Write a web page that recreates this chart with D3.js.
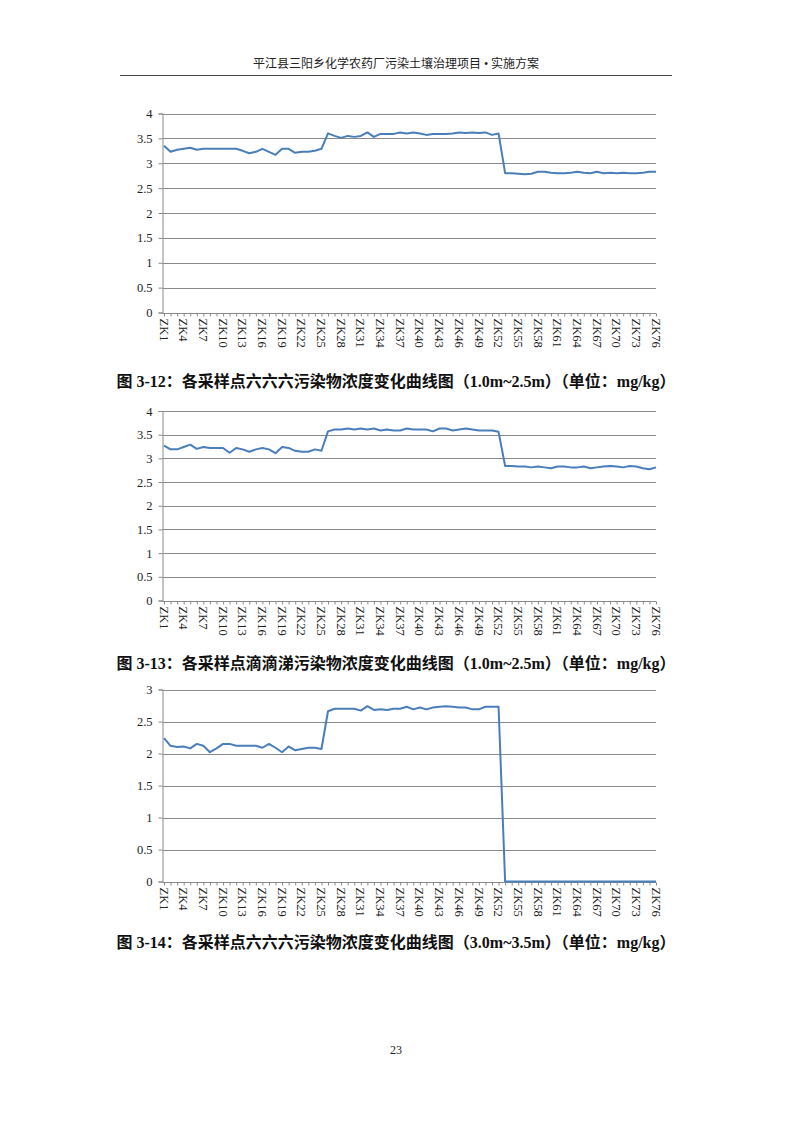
<!DOCTYPE html>
<html>
<head>
<meta charset="utf-8">
<script src="https://cdn.jsdelivr.net/npm/d3@7"></script>
<style>
  body { margin: 0; background: #fff; }
  .tick-label { font-family: "Liberation Serif", "Times New Roman", serif; font-size: 12.5px; fill: #222; }
  .caption { font-family: "Liberation Serif", "Noto Sans CJK SC", serif; font-size: 16px; font-weight: bold; fill: #111; }
  .header { font-family: "Liberation Serif", "Noto Sans CJK SC", serif; font-size: 12px; fill: #222; }
</style>
</head>
<body>
<svg class="page" width="793" height="1122"></svg>
<script>
const page = d3.select('.page');

// 采样点 ZK1 ~ ZK76
const categories = d3.range(1, 77).map(i => 'ZK' + i);
const xTickLabels = categories.filter((c, i) => i % 3 === 0);

// 图3-12 六六六 (1.0m~2.5m)
const hch12 = [
    3.35, 3.23, 3.27, 3.29, 3.31, 3.27, 3.29, 3.29, 3.29, 3.29, 3.29, 3.29,
    3.25, 3.20, 3.23, 3.29, 3.23, 3.17, 3.29, 3.29, 3.21, 3.23, 3.23, 3.25, 3.29,
    3.60, 3.55, 3.51, 3.55, 3.53, 3.55, 3.62, 3.53, 3.59, 3.59, 3.59, 3.62, 3.60,
    3.62, 3.60, 3.57, 3.59, 3.59, 3.59, 3.60, 3.62, 3.61, 3.62, 3.61, 3.62, 3.57, 3.60,
    2.80, 2.80, 2.79, 2.78, 2.79, 2.83, 2.83, 2.81, 2.80, 2.80, 2.81, 2.83,
    2.81, 2.80, 2.83, 2.80, 2.81, 2.80, 2.81, 2.80, 2.80, 2.81, 2.83, 2.83
];

// 图3-13 滴滴涕 (1.0m~2.5m)
const ddt13 = [
    3.27, 3.19, 3.19, 3.24, 3.29, 3.20, 3.24, 3.22, 3.22, 3.22, 3.12, 3.22,
    3.19, 3.14, 3.19, 3.22, 3.19, 3.11, 3.24, 3.22, 3.16, 3.14, 3.14, 3.19, 3.16,
    3.57, 3.61, 3.61, 3.63, 3.61, 3.63, 3.61, 3.63, 3.59, 3.61, 3.59, 3.59, 3.63,
    3.61, 3.61, 3.61, 3.57, 3.63, 3.63, 3.59, 3.61, 3.63, 3.61, 3.59, 3.59, 3.59, 3.56,
    2.84, 2.84, 2.83, 2.83, 2.81, 2.83, 2.81, 2.79, 2.83, 2.83, 2.81, 2.81,
    2.83, 2.79, 2.81, 2.83, 2.84, 2.83, 2.81, 2.84, 2.83, 2.79, 2.77, 2.81
];

// 图3-14 六六六 (3.0m~3.5m)
const hch14 = [
    2.24, 2.12, 2.10, 2.11, 2.08, 2.15, 2.12, 2.02, 2.08, 2.15, 2.15, 2.12,
    2.12, 2.12, 2.12, 2.09, 2.15, 2.09, 2.02, 2.11, 2.05, 2.07, 2.09, 2.09, 2.07,
    2.66, 2.70, 2.70, 2.70, 2.70, 2.67, 2.74, 2.68, 2.69, 2.68, 2.70, 2.70, 2.73,
    2.69, 2.72, 2.69, 2.72, 2.73, 2.74, 2.73, 2.72, 2.72, 2.69, 2.69, 2.73, 2.73, 2.73,
    0, 0, 0, 0, 0, 0, 0, 0, 0, 0, 0, 0,
    0, 0, 0, 0, 0, 0, 0, 0, 0, 0, 0, 0
];

const yTicks4 = [0, 0.5, 1, 1.5, 2, 2.5, 3, 3.5, 4];
const yTicks3 = [0, 0.5, 1, 1.5, 2, 2.5, 3];

const captions = [
    '图 3-12：各采样点六六六污染物浓度变化曲线图（1.0m~2.5m）（单位：mg/kg）',
    '图 3-13：各采样点滴滴涕污染物浓度变化曲线图（1.0m~2.5m）（单位：mg/kg）',
    '图 3-14：各采样点六六六污染物浓度变化曲线图（3.0m~3.5m）（单位：mg/kg）'
];

const gridColor = '#8a8a8a';
const lineColor = '#4a7ebb';

page.append('rect').attr('width', 793).attr('height', 1122).attr('fill', '#fff');

// 页眉
page.append('text')
    .attr('class', 'header')
    .attr('x', 396).attr('y', 68)
    .attr('text-anchor', 'middle')
    .text('平江县三阳乡化学农药厂污染土壤治理项目 • 实施方案');
page.append('line')
    .attr('x1', 120).attr('x2', 672)
    .attr('y1', 75.5).attr('y2', 75.5)
    .attr('stroke', '#444').attr('stroke-width', 1);

const paintChart = (values, yTicks, top, bottom, caption, captionY) => {
    const left = 162.5;
    const right = 656;

    const xScale = d3.scalePoint()
        .domain(categories)
        .range([left + 1.5, right]);
    const yScale = d3.scaleLinear()
        .domain([0, d3.max(yTicks)])
        .range([bottom, top]);

    const g = page.append('g');

    // 网格线
    g.selectAll('.grid').data(yTicks.filter(t => t > 0))
        .enter().append('line')
        .attr('x1', left).attr('x2', right)
        .attr('y1', d => Math.round(yScale(d)) + 0.5)
        .attr('y2', d => Math.round(yScale(d)) + 0.5)
        .attr('stroke', gridColor).attr('stroke-width', 1);

    // y轴
    const yAxis = g.append('g')
        .attr('transform', `translate(${left},0)`)
        .call(d3.axisLeft(yScale).tickValues(yTicks).tickSize(4).tickPadding(6).tickFormat(d3.format('')));
    yAxis.select('.domain').attr('stroke', gridColor);
    yAxis.selectAll('.tick line').attr('stroke', gridColor);
    yAxis.selectAll('.tick text').attr('class', 'tick-label').attr('font-family', null).attr('font-size', null);

    // x轴
    const xAxis = g.append('g')
        .attr('transform', `translate(0,${Math.round(bottom) + 0.5})`)
        .call(d3.axisBottom(xScale).tickSize(3).tickSizeOuter(0).tickFormat(''));
    xAxis.select('.domain').attr('stroke', gridColor).attr('d', `M${left},0H${right}`);
    xAxis.selectAll('.tick line').attr('stroke', gridColor);

    g.selectAll('.xlabel').data(xTickLabels)
        .enter().append('text')
        .attr('class', 'tick-label')
        .attr('transform', d => `translate(${xScale(d)},${bottom + 6}) rotate(90)`)
        .attr('dy', '0.35em')
        .attr('text-anchor', 'start')
        .text(d => d);

    const line = d3.line()
        .x((d, i) => xScale(categories[i]))
        .y(d => yScale(d));

    g.append('path')
        .datum(values)
        .attr('d', line)
        .attr('fill', 'none')
        .attr('stroke', lineColor)
        .attr('stroke-width', 2)
        .attr('stroke-linejoin', 'round');

    page.append('text')
        .attr('class', 'caption')
        .attr('x', 396).attr('y', captionY)
        .attr('text-anchor', 'middle')
        .text(caption);
};

paintChart(hch12, yTicks4, 113.5, 312.5, captions[0], 387);
paintChart(ddt13, yTicks4, 411, 600.5, captions[1], 669);
paintChart(hch14, yTicks3, 689.5, 881.5, captions[2], 948);

// 页码
page.append('text')
    .attr('class', 'header')
    .attr('x', 396).attr('y', 1054)
    .attr('text-anchor', 'middle')
    .text('23');
</script>
</body>
</html>
